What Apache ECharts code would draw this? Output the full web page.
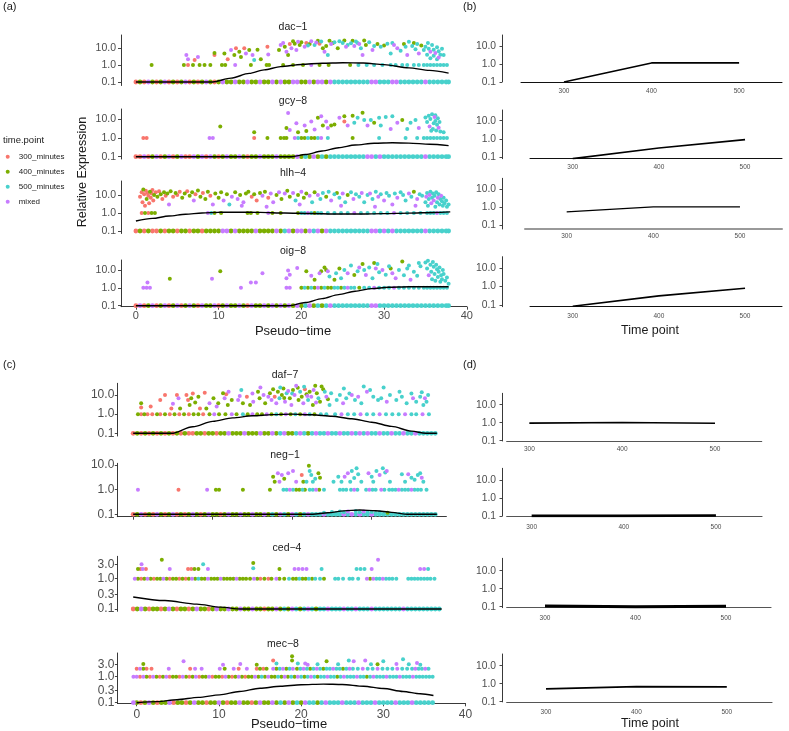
<!DOCTYPE html>
<html><head><meta charset="utf-8">
<script src="https://cdn.jsdelivr.net/npm/echarts@6/dist/echarts.min.js"></script>
<style>html,body{margin:0;padding:0;background:#fff}#c{width:789px;height:731px}</style>
</head><body><div id="c"></div>
<script>
// ---------- categories / legend ----------
const timePoints = ['300_minutes','400_minutes','500_minutes','mixed'];
const colors = ['#F8766D','#7CAE00','#48D1CC','#C77CFF'];
const timeTicks = [300,400,500];
const pseudoTicks = [0,10,20,30,40];
const exprTicks = [0.1,1,10];
const exprTicksFine = [0.1,0.3,1,3];
const ZERO_LEVEL = 0.1, ONE_LEVEL = 1;

// ---------- dac-1 ----------  zero band [x,k], row at 1.0 [x,k], other cells [x,y,k]
const dac1Zero = [[0,0],[0.5,1],[1,0],[1.5,3],[2,1],[2.5,0],[3,1],[3.5,3],[4,0],[4.5,1],[5,0],[5.5,1],[6,3],[6.5,0],[7,1],[7.5,0],[8,1],[8.5,3],[9,1],[9.5,0],[10,1],[10.5,3],[11,1],[11.5,1],[12,3],[12.5,1],[13,1],[13.5,3],[14,1],[14.5,1],[15,3],[15.5,1],[16,1],[16.5,3],[17,1],[17.5,3],[18,1],[18.5,1],[19,3],[19.5,3],[20,1],[20.5,1],[21,3],[21.5,1],[22,3],[22.5,3],[23,1],[23.5,3],[24,2],[24.5,2],[25,2],[25.5,2],[26,2],[26.5,2],[27,2],[27.5,2],[28,2],[28.5,3],[29,3],[29.5,2],[30,2],[30.5,2],[31,3],[31.5,3],[32,2],[32.5,2],[33,2],[33.5,2],[34,2],[34.5,2],[35,3],[35.5,2],[36,2],[36.5,2],[37,2],[37.5,2],[37.8,2]];
const dac1One = [[1.9,1],[5.8,1],[6.3,0],[6.9,1],[7.7,1],[8.3,1],[9,1],[10.4,1],[10.8,1],[12,3],[13.9,1],[15.8,1],[16.1,1],[17.8,1],[19,1],[20.2,1],[21.2,3],[22.2,1],[23.3,1],[25.9,1],[26.9,2],[27.9,2],[28.8,2],[29.8,2],[30.8,2],[31.4,2],[32.2,2],[32.8,2],[33.6,2],[34.2,2],[34.8,2],[35.2,2],[35.6,2],[36,2],[36.4,2],[36.8,2],[37.2,2],[37.6,2]];
const dac1Pts = [[6.1,3.9,3],[6.3,2.2,3],[7.1,2,0],[7.5,3,3],[9.5,3.9,0],[9.5,5,1],[10.7,4.7,1],[11.1,2.2,0],[11.5,7.5,3],[11.9,3.9,1],[12.1,9.6,0],[12.5,6,1],[12.7,3,1],[13.1,9.6,0],[13.3,4.7,3],[13.7,7.5,1],[14.1,3.9,3],[14.3,2,2],[14.7,8,1],[15.1,2.2,1],[15.9,12,0],[16,4.2,3],[17.3,7.5,1],[17.5,15,3],[17.8,20,3],[18,12,1],[18.2,6,3],[18.4,3.9,1],[18.6,17,0],[18.8,9.6,3],[19.2,18,1],[19.4,7.5,3],[19.8,15,1],[20,22,1],[20.4,12,3],[20.6,20,0],[21,17,1],[21.2,25,3],[21.6,15,2],[22,27,1],[22.2,18,0],[22.6,9.6,1],[22.8,6,3],[23.2,3.9,2],[23.4,27,1],[23.6,17,3],[24,22,2],[24.4,9.6,1],[25,20,2],[25.2,28,1],[25.6,15,2],[26.2,27,1],[26.4,13,3],[26.8,20,2],[27.2,9.6,2],[27.4,3.9,3],[27.8,15,1],[28.2,22,2],[28.6,7.5,3],[29.2,17,1],[29.6,12,2],[30.4,18,2],[30.8,4.7,2],[31.6,9.6,3],[32,7,2],[32.4,17,1],[32.8,3.9,3],[33.4,13,2],[33.8,8.5,2],[34.2,4.7,3],[34.8,7.5,2],[35,12,2],[35.2,4,2],[35.4,9,2],[35.6,2.5,2],[35.6,6,3],[35.8,15,2],[36,3.5,2],[36,8,2],[36.2,5,3],[36.4,11,2],[36.4,2.2,2],[36.6,6.5,2],[36.8,4,2],[37,9,2],[37.2,3.9,2],[35.3,20,2],[34.5,14,1],[36.6,2.8,3],[19,25,1],[19.6,23,3],[20.8,14,2],[21.8,21,3],[22.4,24,2],[23,13,1],[23.8,20,1],[24.6,25,2],[25.4,12,3],[26,19,2],[26.6,24,2],[27,17,3],[27.6,28,1],[28.8,13,2],[30,14,1],[31,20,2],[31.2,15,3],[32.6,12,2],[33,23,2],[33.6,20,1],[34,17,2]];
const dac1Curve = [[0,0.1],[9.3,0.1],[11.5,0.17],[13.7,0.32],[15.5,0.52],[17.5,0.8],[20,1.08],[22.5,1.28],[25,1.36],[27.5,1.3],[30,1.05],[33,0.68],[35.5,0.48],[37.8,0.33]];
const dac1Time = [0.1,1.15,1.15];

// ---------- gcy-8 ----------
const gcy8Zero = [[0,0],[0.5,0],[1,3],[1.5,0],[2,1],[2.5,3],[3,0],[3.5,1],[4,3],[4.5,0],[5,1],[5.5,3],[6,0],[6.5,0],[7,3],[7.5,1],[8,3],[8.5,0],[9,3],[9.5,1],[10,0],[10.5,1],[11,3],[11.5,1],[12,1],[12.5,3],[13,1],[13.5,0],[14,1],[14.5,1],[15,3],[15.5,1],[16,1],[16.5,1],[17,3],[17.5,1],[18,1],[18.5,1],[19,1],[19.5,3],[20,1],[20.5,2],[21,1],[21.5,3],[22,1],[22.5,2],[23,1],[23.5,2],[24,2],[24.5,2],[25,2],[25.5,2],[26,2],[26.5,2],[27,2],[27.5,2],[28,3],[28.5,3],[29,2],[29.5,3],[30,2],[30.5,2],[31,2],[31.5,2],[32,2],[32.5,2],[33,2],[33.5,2],[34,2],[34.5,2],[35,3],[35.5,2],[36,2],[36.5,2],[37,2],[37.5,2],[37.8,2]];
const gcy8One = [[0.9,0],[1.3,0],[8.9,3],[9.3,3],[14.3,0],[15.9,1],[17.5,1],[17.9,1],[18.2,1],[19.2,3],[19.6,2],[20,1],[20.4,1],[20.8,2],[21.2,1],[21.6,1],[22,2],[22.4,3],[23.2,2],[26.2,1],[29.4,2],[32.6,2],[34,2],[34.8,2],[35.2,2],[35.6,2],[36,2],[36.4,2],[36.8,2],[37.2,2],[37.6,2]];
const gcy8Pts = [[10.2,4.1,1],[14.3,2,1],[18.4,21,3],[18.2,3.4,1],[18.6,2.6,3],[19.4,6,3],[19.6,2,1],[20.4,4.5,3],[20.6,2.3,1],[21.2,7.5,3],[21.6,2.8,3],[22,11.8,1],[22.4,14,3],[22.6,4.5,1],[23,7.5,3],[23.2,3.4,3],[23.6,4.5,1],[24,5.2,1],[24.6,11.8,3],[25.2,7.5,0],[25.2,14,1],[25.6,4.5,3],[26.2,15,1],[26.4,6.3,2],[26.8,11.8,2],[27.4,22,1],[27.6,9,2],[28,4.5,3],[28.4,9,2],[28.8,6.3,1],[29.4,11.8,2],[29.6,4.5,2],[30.2,13,2],[30.8,3,3],[31,14,2],[31.6,6.3,3],[32.2,9,1],[32.8,3,2],[33.2,6.3,2],[33.8,9,2],[34.2,3.4,3],[35,12,2],[35.2,7,2],[35.4,15,2],[35.5,4,3],[35.6,10,2],[35.8,18,2],[35.9,3,2],[36,6,2],[36.1,13,3],[36.2,8,2],[36.3,2.5,2],[36.4,5,2],[36.5,11,2],[36.6,3.5,3],[36.7,7,2],[36.8,2.2,2],[37.2,2,2],[35.7,2.4,2],[36.2,16,2]];
const gcy8Curve = [[0,0.1],[18.8,0.1],[20.5,0.13],[22.5,0.2],[24.5,0.3],[26.5,0.42],[28.8,0.52],[31,0.55],[33,0.53],[35.5,0.46],[37.8,0.39]];
const gcy8Time = [0.085,0.32,0.92];

// ---------- hlh-4 ----------
const hlh4Zero = [[0,0],[0.5,1],[1,0],[1.5,1],[2,0],[2.5,0],[3,1],[3.5,0],[4,1],[4.5,1],[5,0],[5.5,1],[6,1],[6.5,0],[7,1],[7.5,1],[8,0],[8.5,1],[9,1],[9.5,1],[10,1],[10.5,3],[11,3],[11.5,1],[12,3],[12.5,1],[13,1],[13.5,1],[14,1],[14.5,3],[15,1],[15.5,1],[16,1],[16.5,1],[17,3],[17.5,1],[18,2],[18.5,3],[19,1],[19.5,3],[20,3],[20.5,1],[21,3],[21.5,2],[22,3],[22.5,1],[23,3],[23.5,2],[24,2],[24.5,2],[25,2],[25.5,2],[26,2],[26.5,2],[27,2],[27.5,2],[28,2],[28.5,3],[29,3],[29.5,2],[30,3],[30.5,2],[31,3],[31.5,2],[32,2],[32.5,2],[33,2],[33.5,2],[34,2],[34.5,2],[35,3],[35.5,2],[36,2],[36.5,2],[37,2],[37.5,2],[37.8,2]];
const hlh4One = [[0.7,0],[1.1,1],[1.5,0],[1.9,1],[2.3,1],[8.7,3],[9.1,2],[9.5,1],[10.3,1],[13.5,1],[13.9,1],[14.7,1],[16,3],[16.5,1],[17.5,1],[19.6,1],[20,2],[20.4,2],[20.8,3],[21.2,2],[21.6,1],[22,2],[22.4,2],[23.2,2],[24,2],[24.8,2],[25.6,2],[26.4,3],[27.2,2],[28,2],[28.8,2],[29.6,2],[30.4,2],[31.2,3],[32,2],[32.8,2],[33.6,2],[34.4,2],[35.2,2],[35.6,2],[36,2],[36.4,3],[36.8,2],[37.2,2],[37.6,2]];
const hlh4Pts = [[0.5,8,0],[0.7,14,0],[0.8,4,0],[0.9,20,1],[1,11,0],[1.1,2.5,0],[1.2,17,0],[1.3,6,1],[1.4,13,0],[1.5,9,0],[1.6,3.5,0],[1.7,15,1],[1.8,7,0],[1.9,12,0],[2,19,0],[2.1,5,0],[2.2,10,1],[2.4,14,0],[2.6,8,1],[2.8,16,0],[3,11,1],[3.2,6,0],[3.4,14,1],[3.6,9,0],[3.8,12,1],[4,3,3],[4.2,16,1],[4.5,8,0],[4.8,13,1],[5,10,0],[5.3,15,0],[5.6,7,1],[5.9,12,1],[6.2,16,0],[6.5,9,1],[6.8,14,1],[7,5,3],[7.2,11,0],[7.5,18,1],[7.8,8,1],[8.1,13,0],[8.4,6,1],[8.7,15,1],[9,9,0],[9.3,3,3],[9.6,12,1],[10,7,1],[10.3,14,1],[10.6,5,3],[11,11,1],[11.3,3,2],[11.6,8,3],[12,14,1],[12.3,6,3],[12.6,10,1],[13,4,3],[13.3,12,1],[13.6,15,1],[14,8,0],[14.3,11,1],[14.6,5,0],[15,13,1],[15.3,9,3],[15.6,15,1],[16,7,0],[16.3,12,3],[16.6,4,3],[17,10,1],[17.3,14,3],[17.6,6,1],[18,12,3],[18.3,17,1],[18.6,8,1],[19,13,3],[19.3,5,2],[19.6,10,1],[20,15,3],[20.3,7,1],[20.6,12,1],[21,9,3],[21.3,4,2],[21.6,14,1],[22,10,3],[22.3,6,2],[22.6,13,2],[23,8,1],[23.3,15,2],[23.6,5,3],[24,11,2],[24.3,13,1],[24.6,7,2],[25,12,3],[25.3,4,2],[25.6,10,1],[26,14,2],[26.3,6,3],[26.6,11,2],[27,8,2],[27.3,13,3],[27.6,4,2],[28,10,2],[28.3,12,3],[28.6,6,2],[29,15,2],[29.3,8,3],[29.6,11,2],[30,5,3],[30.3,13,2],[30.6,9,2],[31,3,3],[31.3,12,2],[31.6,7,3],[32,14,2],[32.3,10,2],[32.6,5,2],[33,12,3],[33.3,8,2],[33.6,15,1],[34,6,3],[34.3,11,2],[34.6,9,2],[35,4,2],[35.1,8,3],[35.2,13,2],[35.3,2.5,2],[35.4,6,2],[35.5,10,3],[35.6,15,2],[35.7,3.5,3],[35.8,7,2],[35.9,12,2],[36,5,3],[36.1,9,2],[36.2,2.2,2],[36.3,14,2],[36.4,4,2],[36.5,7,3],[36.6,11,2],[36.7,3,2],[36.8,6,2],[36.9,9,3],[37,4.5,2],[37.1,2.5,2],[37.2,7,2],[37.3,3.5,2],[37.5,5,2],[37.6,2.2,2],[37.8,3,2],[12.8,2.5,3],[15.8,2.2,3],[19.8,3,3],[24.8,2.5,3],[28.9,2.2,3],[33.8,2.5,3]];
const hlh4Curve = [[0,0.36],[2,0.5],[4,0.68],[6,0.86],[8,1.0],[10,1.1],[12,1.12],[15,1.08],[18,1.0],[21,0.93],[24,0.88],[27,0.88],[30,0.92],[33,0.98],[36,1.07],[38,1.15]];
const hlh4Time = [0.53,1.02,1.02];

// ---------- oig-8 ----------
const oig8Zero = [[0,0],[0.5,3],[1,0],[1.5,1],[2,3],[2.5,0],[3,1],[3.5,3],[4,0],[4.5,1],[5,3],[5.5,0],[6,1],[6.5,3],[7,1],[7.5,0],[8,3],[8.5,1],[9,1],[9.5,3],[10,0],[10.5,1],[11,3],[11.5,1],[12,1],[12.5,3],[13,1],[13.5,0],[14,3],[14.5,1],[15,1],[15.5,3],[16,1],[16.5,3],[17,1],[17.5,3],[18,1],[18.5,3],[19,1],[19.5,3],[20,1],[20.5,2],[21,3],[21.5,1],[22,2],[22.5,1],[23,2],[23.5,3],[24,2],[24.5,2],[25,2],[25.5,2],[26,2],[26.5,2],[27,2],[27.5,2],[28,2],[28.5,3],[29,3],[29.5,2],[30,2],[30.5,2],[31,2],[31.5,2],[32,2],[32.5,2],[33,2],[33.5,2],[34,2],[34.5,2],[35,2],[35.5,2],[36,2],[36.5,2],[37,2],[37.5,2],[37.8,2]];
const oig8One = [[0.9,3],[1.3,3],[1.7,3],[12.7,3],[18.2,3],[18.6,3],[20,1],[20.4,2],[20.8,1],[21.2,2],[21.6,1],[22,3],[22.4,1],[22.8,2],[23.2,1],[23.6,1],[24,2],[24.4,2],[24.8,1],[25.2,2],[25.6,3],[26,2],[26.4,2],[27,1],[27.6,2],[28.2,2],[28.8,3],[29.4,2],[30,2],[30.6,2],[31.2,3],[31.8,2],[32.4,2],[33,2],[33.6,2],[34.2,2],[34.8,2],[35.2,2],[35.6,2],[36,2],[36.4,2],[36.8,2],[37.2,2],[37.6,2]];
const oig8Pts = [[1.4,2,3],[4.1,3.2,1],[9.2,3.2,3],[10.2,8.5,1],[13.9,2,3],[14.5,2,3],[15.3,6.5,3],[18.2,3.5,3],[18.4,9.5,3],[18.6,5.5,3],[19.5,13,3],[20.6,8.5,1],[21.2,4.8,3],[21.6,2.8,1],[22.2,6.5,3],[22.4,8.5,1],[23,10,1],[23.2,8.5,3],[23.4,4.3,2],[24,2.8,1],[24.2,6.5,2],[24.8,3.5,2],[25.2,10,2],[25.6,6.5,3],[26,18,2],[26.4,5.2,1],[26.8,8.5,2],[27.4,22,1],[27.6,10,2],[27.8,5.2,3],[28.2,14,2],[28.6,3.5,2],[29.2,22,2],[29.4,7.5,2],[29.8,10,3],[30.2,5.5,2],[30.6,16,2],[31,6.5,3],[31.4,3.5,3],[31.8,10,2],[32.2,30,1],[32.4,5,2],[32.8,12,2],[33.2,2.8,3],[33.6,8,2],[34,4.8,2],[34.4,16,2],[35,26,2],[35.2,12,2],[35.4,5,3],[35.6,20,2],[35.7,8,2],[35.8,3,2],[36,15,2],[36.1,6,2],[36.2,2.5,2],[36.4,11,2],[36.5,4,2],[36.6,8,2],[36.8,2.2,2],[36.9,5,2],[37,3,2],[37.2,6,2],[37.4,2.5,2],[37.6,3.8,2],[37.8,1.7,2],[35.3,33,2],[35.9,28,2],[36.3,20,2],[36.7,14,2],[37.1,10,2],[29,12,3],[27,14,3],[24.6,12,1],[30.8,12,1],[33,18,2],[34.2,25,2],[28.8,25,1],[22.8,14,1]];
const oig8Curve = [[0,0.1],[18.5,0.1],[20.5,0.15],[22.5,0.25],[24.5,0.42],[26.5,0.65],[28.5,0.9],[30.5,1.08],[33,1.15],[36,1.15],[37.8,1.15]];
const oig8Time = [0.085,0.31,0.8];

// ---------- daf-7 ----------
const daf7Zero = [[0,0],[0.5,1],[1,0],[1.5,1],[2,0],[2.5,1],[3,0],[3.5,1],[4,0],[4.5,1],[5,0],[5.5,1],[6,0],[6.5,1],[7,0],[7.5,0],[8,1],[8.5,1],[9,0],[9.5,1],[10,1],[10.5,0],[11,1],[11.5,1],[12,3],[12.5,1],[13,1],[13.5,1],[14,3],[14.5,1],[15,1],[15.5,1],[16,3],[16.5,1],[17,1],[17.5,3],[18,1],[18.5,2],[19,3],[19.5,1],[20,1],[20.5,2],[21,3],[21.5,2],[22,1],[22.5,2],[23,3],[23.5,2],[24,2],[24.5,3],[25,2],[25.5,2],[26,3],[26.5,2],[27,2],[27.5,3],[28,2],[28.5,3],[29,2],[29.5,3],[30,2],[30.5,2],[31,3],[31.5,2],[32,2],[32.5,3],[33,2],[33.5,2],[34,3],[34.5,2],[35,2],[35.5,3],[36,2],[36.5,2],[37,2],[37.5,2],[38,2]];
const daf7One = [[0.6,1],[1,0],[1.4,1],[1.8,0],[2.4,0],[3,1],[3.4,0],[4,1],[4.6,0],[5.2,1],[5.8,0],[6.4,1],[7,0],[7.6,1],[8.2,1],[8.8,0],[9.6,1],[10.2,3],[10.8,1],[11.6,1],[12.4,3],[13,1],[13.8,2],[14.4,1],[15,3],[15.6,1],[16.2,1],[16.8,3],[17.4,1],[18,2],[18.6,1],[19.2,3],[19.8,1],[20.4,2],[21,1],[21.6,3],[22.2,2],[22.8,1],[23.6,2],[24.3,2],[25.4,2],[26.2,3],[27,2],[27.8,2],[28.6,3],[29.4,2],[30.2,2],[31,3],[31.8,2],[32.6,2],[33.4,2],[34.2,3],[35,2],[35.6,2],[36.4,3],[37.2,2]];
const daf7Pts = [[1,3.7,1],[1,2.2,0],[3.4,5.5,0],[4,10,0],[4.8,2,0],[5.5,10,0],[5.7,6.7,3],[5.9,2,1],[6.7,10,0],[6.9,5.5,0],[7.1,3,1],[7.3,6.7,1],[7.8,4,1],[8.2,8.2,1],[8.4,2,0],[9.2,2,1],[9.6,3.7,3],[10.1,6.7,1],[10.5,2.5,3],[10.7,3.7,1],[11.3,12.3,1],[11.5,6.7,3],[11.7,11,0],[11.9,3,1],[12.4,5.5,1],[13.2,5.5,3],[13.4,9,3],[13.6,18,2],[13.8,3.7,1],[14.3,8.2,0],[14.7,3,1],[15.1,4.5,3],[15.7,15,1],[15.9,6.7,1],[16.4,10,3],[16.6,3.7,1],[17.2,12.3,1],[17.4,5.5,3],[17.6,20,1],[17.8,8.2,0],[18,3.7,3],[18.2,15,1],[18.4,6.7,2],[18.7,10,1],[18.9,22,1],[19.1,4.5,3],[19.3,12.3,2],[19.7,6.7,1],[19.9,3,3],[20.1,18,1],[20.3,10,3],[20.5,30,3],[20.8,5.5,1],[21,15,2],[21.2,8.2,1],[21.4,3.7,3],[21.6,20,0],[21.8,11,1],[22,5.5,2],[22.2,15,1],[22.4,8.2,3],[22.6,3,1],[22.9,30,1],[23.1,12.3,1],[23.3,6.7,2],[23.5,4.5,1],[23.7,28,1],[24.1,15,2],[24.3,8.2,3],[24.7,3,2],[24.9,12.3,2],[25.6,5.5,2],[26,10,2],[26.4,3.7,3],[26.8,6.7,2],[27.5,10,3],[27.9,5.5,2],[28.3,8.2,3],[28.7,3.7,2],[29.4,15,3],[29.8,18,2],[30.2,8.2,2],[30.8,5.5,2],[31.2,6.7,2],[31.9,4.5,3],[32.3,10,2],[33.1,5.5,2],[33.8,8.2,2],[34.4,3.7,2],[35.2,6.7,3],[35.6,4.5,2],[36.1,8.2,2],[36.5,3,2],[36.7,6.7,3],[36.9,4.5,2],[37.1,10,2],[17,8,3],[18.5,25,2],[19.5,16,3],[20.7,24,1],[21.5,27,2],[22.7,18,3],[23.9,20,1],[19,7,1],[20,12,2],[21.9,9,3],[23,4,3],[24.5,6,1],[16,25,3],[15,12,3],[12,15,3],[9,13,0],[7.5,12,0],[5,3.5,3],[2.2,2.5,0],[26.5,22,2],[27.2,12,2],[29,28,2],[31.5,25,2],[33.5,15,2],[35,12,2],[36.3,14,2]];
const daf7Curve = [[0,0.1],[4.8,0.1],[7.5,0.22],[10,0.42],[12.5,0.64],[15,0.82],[17.5,0.95],[20,1.0],[22.5,0.93],[25,0.78],[27.5,0.58],[30,0.38],[32.5,0.23],[35,0.13],[36.8,0.1],[38.2,0.1]];
const daf7Time = [0.95,1.03,0.93];

// ---------- neg-1 ----------
const neg1Zero = [[0,0],[0.5,1],[1,3],[1.5,0],[2,1],[2.5,0],[3,3],[3.5,1],[4,0],[4.5,1],[5,3],[5.5,0],[6,1],[6.5,0],[7,1],[7.5,3],[8,1],[8.5,0],[9,1],[9.5,3],[10,1],[10.5,1],[11,0],[11.5,1],[12,3],[12.5,1],[13,1],[13.5,3],[14,1],[14.5,1],[15,3],[15.5,1],[16,1],[16.5,3],[17,1],[17.5,2],[18,1],[18.5,3],[19,2],[19.5,1],[20,3],[20.5,2],[21,1],[21.5,2],[22,3],[22.5,2],[23,2],[23.5,2],[24,3],[24.5,2],[25,2],[25.5,2],[26,2],[26.5,3],[27,2],[27.5,3],[28,2],[28.5,3],[29,2],[29.5,2],[30,3],[30.5,2],[31,2],[31.5,2],[32,2],[32.5,2],[33,2],[33.5,2],[34,2],[34.5,2],[35,2],[35.5,2],[36,2],[36.5,2],[37,2],[37.5,2],[38,2]];
const neg1One = [[0.6,3],[5.7,0],[9.3,3],[10.4,1],[10.8,1],[13.8,1],[17.2,1],[18.9,2],[19.3,2],[19.7,3],[20.1,2],[20.5,1],[20.9,1],[21.3,2],[21.6,1],[22.2,2],[22.6,2],[23,3],[23.4,1],[24,2],[26,2],[26.4,2],[26.8,2],[27.4,2],[27.8,3],[28.2,2],[29.3,2],[29.7,3],[30.1,2],[30.5,2],[31.2,3],[31.6,2],[32.2,2],[32.6,2],[33,2],[33.4,3],[33.8,2],[34.2,2],[34.6,2],[35,3],[35.4,2],[35.8,2],[36.2,2],[36.9,2]];
const neg1Pts = [[17.6,3.35,1],[17.8,2.1,1],[18.2,4.6,3],[18.4,2.1,3],[18.7,3.9,3],[19.5,4.6,3],[20.1,5.7,3],[21.2,3.9,0],[21.4,2.1,1],[21.8,2.1,2],[22.1,9.4,1],[22.2,5.7,2],[22.4,3.9,2],[22.6,2.1,2],[23.3,4.6,1],[23.5,3.05,1],[25.8,3.35,2],[26.2,2.1,2],[26.6,3.35,3],[27,4.6,3],[27.3,2.1,2],[27.5,5.7,2],[28.1,7.3,2],[28.3,4.2,2],[28.7,2.1,2],[29.6,4.6,3],[30.2,2.1,2],[30.6,5.7,2],[31,3.9,3],[31.4,7.3,2],[31.7,5,2],[31.9,5.7,3],[32.3,2.1,2],[33.8,4.2,2],[34.2,2.1,2],[34.6,4.2,3],[35,3.05,2],[35.8,3.9,2],[36.1,4.6,2],[36.3,3.05,3],[36.5,2.1,2],[22.9,2.8,2],[20.5,2.1,3],[19,2.8,1],[30,3.3,2],[27.8,3,2],[35.4,2.5,2],[25.2,2.1,2],[24,0.115,2],[25,0.125,2],[26,0.13,2],[27,0.13,3],[28,0.135,2],[29,0.13,3],[30,0.125,2],[31,0.12,2],[32,0.115,1],[26.5,0.12,2],[28.5,0.12,2],[29.5,0.118,2],[25.5,0.112,2],[30.5,0.112,2]];
const neg1Curve = [[0,0.1],[22.6,0.1],[24.5,0.115],[26.5,0.138],[28.5,0.15],[30.5,0.14],[32.5,0.12],[34.5,0.1],[38.2,0.1]];
const neg1Time = [0.101,0.102,0.107];

// ---------- ced-4 ----------
const ced4Zero = [[0,0],[0.5,1],[1,3],[1.5,1],[2,0],[2.5,1],[3,1],[3.5,0],[4,1],[4.5,3],[5,1],[5.5,0],[6,1],[6.5,1],[7,0],[7.5,1],[8,3],[8.5,1],[9,1],[9.5,0],[10,1],[10.5,3],[11,1],[11.5,1],[12,3],[12.5,1],[13,1],[13.5,3],[14,1],[14.5,1],[15,3],[15.5,1],[16,1],[16.5,0],[17,1],[17.5,1],[18,3],[18.5,1],[19,2],[19.5,1],[20,3],[20.5,2],[21,1],[21.5,2],[22,3],[22.5,2],[23,1],[23.5,2],[24,2],[24.5,3],[25,2],[25.5,2],[26,2],[26.5,3],[27,2],[27.5,2],[28,3],[28.5,2],[29,2],[29.5,2],[30,3],[30.5,2],[31,2],[31.5,2],[32,2],[32.5,2],[33,2],[33.5,2],[34,3],[34.5,2],[35,2],[35.5,2],[36,2],[36.5,2],[37,2],[37.5,2],[38,2],[38.5,2]];
const ced4One = [[0.2,3],[0.6,1],[1,0],[1.4,1],[1.8,3],[2.2,1],[2.6,0],[3,1],[3.4,1],[3.8,3],[4.2,1],[4.6,0],[5,1],[5.4,1],[5.8,0],[6.2,1],[6.6,0],[7,1],[7.4,3],[7.8,1],[8.2,2],[8.6,1],[9,1],[9.4,3],[9.8,1],[10.2,1],[10.6,1],[11,3],[11.4,1],[11.8,1],[12.2,1],[12.6,1],[13,3],[13.4,1],[13.8,1],[14.2,1],[14.7,1],[15.2,3],[15.6,1],[16,0],[16.5,1],[17,0],[17.4,1],[18,3],[18.4,1],[19,1],[19.6,2],[20.1,1],[20.5,1],[20.9,2],[21.3,1],[21.7,1],[22.1,2],[22.5,1],[22.9,2],[23.5,2],[24,1],[25.4,2],[25.8,2],[26.4,2],[27.2,2],[27.6,2],[28.3,2],[29.4,3],[29.8,1],[30.2,3],[30.6,2],[31,2],[31.4,3],[31.8,2],[32.2,2],[32.6,2],[33.1,2],[34.6,2],[35,2],[35.4,2],[35.8,2],[36.2,2],[36.6,2],[37,2],[37.4,2],[37.9,2]];
const ced4Pts = [[1.05,3,3],[3.6,4.2,1],[8.8,3,2],[15.1,3.3,1],[30.8,4.2,3],[0.6,2.1,1],[0.9,2.1,0],[1.2,2.1,3],[1.6,2.1,0],[4.6,2.1,3],[6.9,2.1,0],[7.3,2.1,0],[7.7,2.1,1],[8.2,2.1,1],[9.4,2.1,3],[15.1,2.2,2],[18.4,2.1,1],[20.3,2.1,3],[20.8,2.1,3],[21.3,2.1,3],[21.8,2.1,3],[23.7,2.1,2],[28.1,2.1,2],[28.6,2.1,2],[29.1,2.1,2],[30,2.1,3],[36.1,2.1,3],[36.6,2.1,3],[37.1,2.1,2]];
const ced4Curve = [[0,0.25],[4,0.19],[8,0.145],[11,0.115],[13.5,0.1],[38.8,0.1]];
const ced4Time = [0.108,0.1,0.105];

// ---------- mec-8 ----------
const mec8Zero = [[-0.4,3],[0,1],[0.5,0],[1,1],[1.5,3],[2,1],[2.5,0],[3,1],[3.5,1],[4,3],[4.5,0],[5,1],[5.5,1],[6,0],[6.5,1],[7,3],[7.5,1],[8,1],[8.5,0],[9,1],[9.5,1],[10,3],[10.5,1],[11,0],[11.5,1],[12,1],[12.5,3],[13,1],[13.5,1],[14,0],[14.5,1],[15,3],[15.5,1],[16,1],[16.5,3],[17,1],[17.5,2],[18,1],[18.5,3],[19,1],[19.5,2],[20,1],[20.5,3],[21,2],[21.5,2],[22,1],[22.5,2],[23,3],[23.5,2],[24,2],[24.5,2],[25,3],[25.5,2],[26,2],[26.5,2],[27,3],[27.5,2],[28,2],[28.5,2],[29,3],[29.5,2],[30,2],[30.5,2],[31,2],[31.5,3],[32,2],[32.5,2],[33,2],[33.5,3],[34,2],[34.5,2],[35,2],[35.5,2],[36,2]];
const mec8One = [[-0.4,3],[0,3],[0.4,0],[0.8,3],[1.2,1],[1.6,0],[2,3],[2.4,1],[2.8,0],[3.2,1],[3.6,3],[4,0],[4.4,1],[4.8,1],[5.2,0],[5.6,3],[6,1],[6.4,0],[6.8,1],[7.2,3],[7.6,0],[8,1],[8.4,1],[8.8,3],[9.2,0],[9.6,1],[10,1],[10.4,0],[10.8,3],[11.2,1],[11.6,0],[12,1],[12.4,3],[12.8,1],[13.2,0],[13.6,1],[14,1],[14.4,3],[14.8,1],[15.2,2],[15.6,1],[16,3],[16.4,1],[16.8,1],[17.2,2],[17.6,1],[18,3],[18.4,1],[18.8,2],[19.2,1],[19.6,3],[20,2],[20.4,1],[20.8,2],[21.2,3],[21.6,2],[22,1],[22.4,2],[22.8,2],[23.2,3],[23.6,2],[24,2],[24.4,1],[24.8,2],[25.2,3],[25.6,2],[26,2],[26.4,2],[26.8,3],[27.2,2],[27.6,2],[28,1],[28.4,2],[28.8,3],[29.2,2],[29.6,2],[30,2],[30.4,3],[30.8,2],[31.2,2],[31.6,2],[32,3],[32.4,2],[32.8,2],[33.2,2],[33.6,3],[34,2],[34.4,2],[34.8,2],[35.2,2],[35.6,2],[36,2]];
const mec8Pts = [[0,2,0],[0.4,2,3],[0.8,2,1],[1.2,2,0],[1.8,2,0],[3.9,2,3],[6.5,2,0],[7.1,2,3],[7.9,2,3],[10.1,2,3],[10.7,2,1],[11.8,2,3],[12.4,2,0],[13.4,2,3],[14.6,2,0],[15,2,1],[15.4,2,0],[15.8,2,1],[16.6,2,3],[17,2,1],[17.4,2,2],[17.8,2,3],[18.2,2,1],[18.6,2,2],[19,2,3],[19.5,2,1],[19.9,2,2],[20.3,2,3],[20.7,2,2],[21.1,2,1],[21.5,2,2],[21.9,2,3],[22.3,2,2],[22.7,2,1],[23.1,2,2],[23.5,2,2],[23.9,2,3],[24.3,2,2],[24.7,2,2],[25.1,2,1],[25.5,2,2],[25.9,2,3],[26.3,2,2],[26.9,2,2],[27.5,2,3],[28.1,2,2],[28.7,2,2],[29.3,2,3],[29.9,2,2],[30.5,2,2],[31.1,2,2],[31.7,2,3],[32.3,2,2],[32.9,2,2],[33.5,2,2],[33.9,2,3],[34.3,2,2],[34.7,2,2],[35.1,2,3],[35.5,2,2],[0.8,3.1,1],[5.7,3.9,3],[10.5,2.9,3],[12.6,3.1,3],[14.6,2.9,1],[16.6,4.2,0],[18.9,6.1,1],[18.9,4.2,1],[17,3.2,2],[19.6,3.2,2],[20.8,2.9,3],[23.1,3.9,1],[25.8,4.2,2],[26.4,3.9,3],[27.8,4.2,3],[30,3.9,2],[31.6,3.1,3],[32.4,4.7,2],[34.1,3.4,3],[34.5,2.9,2],[28.5,3,2],[22,3,2],[24.5,3,2],[33.1,3,2],[20.5,3.2,3],[29.3,3,1]];
const mec8Curve = [[0,0.1],[2.5,0.11],[4.9,0.13],[7.5,0.16],[10.1,0.2],[12.5,0.27],[15,0.36],[17.5,0.43],[20,0.49],[22.7,0.52],[25,0.5],[27.6,0.43],[30,0.35],[32.4,0.27],[34.5,0.22],[36.1,0.19]];
const mec8Time = [0.51,0.68,0.66];

// ---------- build ----------
const FONT = '"Liberation Sans", Arial, Helvetica, sans-serif';
const grids = [], xAxes = [], yAxes = [], series = [], graphics = [];
const L10 = v => Math.log10(v);

function txt(x, y, s, size, opt) {
  opt = opt || {};
  graphics.push({type:'text', x:x, y:y, rotation: opt.rot || 0, silent:true,
    style:{text:s, font: size + 'px ' + FONT, fill: opt.color || '#1a1a1a',
      textAlign: opt.align || 'center', textVerticalAlign:'middle', align: opt.align || 'center', verticalAlign:'middle'}});
}

function addPanel(c) {
  const i = grids.length;
  grids.push({left:c.left, top:c.top, width:c.right - c.left, height:c.bottom - c.top, containLabel:false, outerBoundsMode:'none'});
  const ymin = -1 - (c.bottom - c.p01) / c.ppd, ymax = -1 + (c.p01 - c.top) / c.ppd;
  const yt = c.yticks.map(L10);
  yAxes.push({type:'value', gridIndex:i, min:ymin, max:ymax, position:'left', offset:c.yOffset || 0,
    axisLine:{show:true, onZero:false, lineStyle:{color:'#222', width:0.9}},
    axisTick:{show:true, length:c.yTick, customValues:yt, lineStyle:{color:'#333', width:0.9}},
    axisLabel:{show:true, customValues:yt, formatter:v => Math.pow(10, v).toFixed(1), fontSize:c.yFont, color:'#4d4d4d', margin:c.yMargin, fontFamily:FONT},
    splitLine:{show:false}});
  const xa = {type:'value', gridIndex:i, min:c.xmin, max:c.xmax, splitLine:{show:false}};
  if (c.x) {
    xa.axisLine = {show:true, onZero:false, lineStyle:{color:c.x.color || '#222', width:c.x.width || 0.9}};
    xa.axisTick = c.x.ticks ? {show:true, length:3, customValues:c.x.ticks, lineStyle:{color:'#333', width:0.9}} : {show:false};
    xa.axisLabel = c.x.labels ? {show:true, customValues:c.x.labels, formatter:v => String(v), fontSize:c.x.font, color:'#4d4d4d', margin:c.x.margin, fontFamily:FONT} : {show:false};
  } else {
    xa.show = false;
    xa.axisLine = {show:false, onZero:false};
  }
  xAxes.push(xa);
  if (c.title) txt(c.title[0], c.title[1], c.title[2], 10.5);
  return i;
}

function addCells(i, zero, one, pts) {
  for (let k = 0; k < 4; k++) {
    // zero-expression cells (dense band at 0.1)
    series.push({type:'scatter', name:timePoints[k], xAxisIndex:i, yAxisIndex:i,
      data: zero.filter(p => p[1] === k).map(p => [p[0], L10(ZERO_LEVEL)]),
      symbol:'circle', symbolSize:4.8, itemStyle:{color:colors[k], opacity:1}, silent:true, z:2});
  }
  for (let k = 0; k < 4; k++) {
    const data = []
      .concat(one.filter(p => p[1] === k).map(p => [p[0], L10(ONE_LEVEL)]))
      .concat(pts.filter(p => p[2] === k).map(p => [p[0], L10(p[1])]));
    series.push({type:'scatter', name:timePoints[k], xAxisIndex:i, yAxisIndex:i, data:data,
      symbol:'circle', symbolSize:4, itemStyle:{color:colors[k], opacity:1}, silent:true, z:2});
  }
}
function addCurve(i, curve) {
  series.push({type:'line', xAxisIndex:i, yAxisIndex:i, data:curve.map(p => [p[0], L10(p[1])]),
    symbol:'none', showSymbol:false, smooth:0.3, smoothMonotone:'x', lineStyle:{color:'#000', width:1.4}, z:5, silent:true});
}
function addTime(i, vals, w) {
  series.push({type:'line', xAxisIndex:i, yAxisIndex:i, data:timeTicks.map((t, j) => [t, L10(vals[j])]),
    symbol:'none', showSymbol:false, lineStyle:{color:'#000', width:w}, z:5, silent:true});
}

// (a) pseudo-time panels
const A = {left:121, right:466.8, xmin:-1.8, xmax:40, yticks:exprTicks, yFont:10.5, yMargin:5, yTick:3};
const aPanels = [
  {top:35, bottom:85.5, p01:82, ppd:17, title:[293, 27.3, 'dac\u22121'], z:dac1Zero, o:dac1One, p:dac1Pts, c:dac1Curve},
  {top:109, bottom:159, p01:156.7, ppd:18.8, title:[293, 101, 'gcy\u22128'], z:gcy8Zero, o:gcy8One, p:gcy8Pts, c:gcy8Curve},
  {top:181, bottom:233.5, p01:231, ppd:18, title:[293, 173, 'hlh\u22124'], z:hlh4Zero, o:hlh4One, p:hlh4Pts, c:hlh4Curve},
  {top:260, bottom:306.7, p01:305.7, ppd:17.85, title:[293, 251, 'oig\u22128'], z:oig8Zero, o:oig8One, p:oig8Pts, c:oig8Curve,
    x:{ticks:pseudoTicks, labels:pseudoTicks, font:11, margin:4}}
];
aPanels.forEach(p => { const i = addPanel(Object.assign({}, A, p)); addCells(i, p.z, p.o, p.p); addCurve(i, p.c); });

// (b) time-point panels
const bPanels = [
  {left:521, right:782, xmin:250.9, xmax:549, top:35, bottom:82, p01:82, ppd:18, yOffset:19, v:dac1Time, w:1.6, lm:5.5},
  {left:530, right:782, xmin:250.4, xmax:542.9, top:110, bottom:158.7, p01:157.3, ppd:18.3, yOffset:28, v:gcy8Time, w:1.6, lm:5},
  {left:525, right:782, xmin:251.9, xmax:548.5, top:178.3, bottom:229, p01:225, ppd:18, yOffset:23, v:hlh4Time, w:1.3, lm:3.5, xc:'#999', xw:2},
  {left:530, right:782, xmin:250.4, xmax:542.9, top:256.7, bottom:306.7, p01:305, ppd:18.5, yOffset:28, v:oig8Time, w:1.6, lm:6}
];
bPanels.forEach(p => {
  const i = addPanel(Object.assign({yticks:exprTicks, yFont:10.3, yMargin:6, yTick:2.5,
    x:{labels:timeTicks, font:6.5, margin:p.lm, color:p.xc || '#111', width:p.xw || 1}}, p));
  addTime(i, p.v, p.w);
});

// (c) pseudo-time panels
const C = {left:117.3, right:446.4, xmin:-2, xmax:39.4, yFont:12, yMargin:3, yTick:2.5};
const cPanels = [
  {top:383.3, bottom:436, p01:433.3, ppd:19.15, yticks:exprTicks, title:[285, 375, 'daf\u22127'], z:daf7Zero, o:daf7One, p:daf7Pts, c:daf7Curve},
  {top:463.3, bottom:516.7, p01:514.3, ppd:24.65, yticks:exprTicks, title:[285, 455, 'neg\u22121'], z:neg1Zero, o:neg1One, p:neg1Pts, c:neg1Curve,
    x:{ticks:[0,10,20,30], labels:null}},
  {top:556.3, bottom:611.3, p01:609, ppd:30.3, yticks:exprTicksFine, title:[287, 548.3, 'ced\u22124'], z:ced4Zero, o:ced4One, p:ced4Pts, c:ced4Curve},
  {top:653, bottom:703.3, p01:702.7, ppd:26, yticks:exprTicksFine, title:[283, 644, 'mec\u22128'], z:mec8Zero, o:mec8One, p:mec8Pts, c:mec8Curve,
    left:117.4, right:465.5, xmin:-2.35, xmax:40, x:{ticks:pseudoTicks, labels:pseudoTicks, font:12, margin:5}}
];
cPanels.forEach(p => { const i = addPanel(Object.assign({}, C, p)); addCells(i, p.z, p.o, p.p); addCurve(i, p.c); });

// (d) time-point panels
const dPanels = [
  {left:506.7, right:761.7, xmin:275.6, xmax:550.3, top:393.3, bottom:441, p01:440.7, ppd:18, v:daf7Time, w:1.6, lm:5},
  {left:506.7, right:762, xmin:272.9, xmax:550, top:468.3, bottom:516.2, p01:516, ppd:18, v:neg1Time, w:2.6, lm:8},
  {left:506.7, right:771, xmin:257.7, xmax:549.7, top:558.3, bottom:607.7, p01:606.7, ppd:18, v:ced4Time, w:3, lm:7.5},
  {left:506.7, right:772, xmin:256.5, xmax:550, top:654, bottom:701.9, p01:701.7, ppd:18, v:mec8Time, w:1.8, lm:7}
];
dPanels.forEach(p => {
  const i = addPanel(Object.assign({yticks:exprTicks, yFont:10.3, yMargin:6, yTick:2.5, yOffset:4.7,
    x:{labels:timeTicks, font:6.5, margin:p.lm, color:'#555', width:1.1}}, p));
  addTime(i, p.v, p.w);
});

// texts
txt(3, 7, '(a)', 11, {align:'left'});
txt(463, 7, '(b)', 11, {align:'left'});
txt(3, 365, '(c)', 11, {align:'left'});
txt(463, 365, '(d)', 11, {align:'left'});
txt(293, 331, 'Pseudo\u2212time', 13);
txt(289, 724.3, 'Pseudo\u2212time', 13);
txt(650, 331, 'Time point', 12.5);
txt(650, 723.3, 'Time point', 12.5);
txt(83, 172, 'Relative Expression', 12.5, {rot:Math.PI / 2});
txt(3, 140, 'time.point', 9.5, {align:'left'});

const chart = echarts.init(document.getElementById('c'), null, {renderer:'canvas'});
chart.setOption({
  animation:false,
  backgroundColor:'#fff',
  textStyle:{fontFamily:FONT},
  grid:grids, xAxis:xAxes, yAxis:yAxes, series:series, graphic:graphics,
  legend:{data:timePoints, orient:'vertical', left:5.7, top:152.2, padding:0, itemGap:6, itemWidth:12, itemHeight:4,
    icon:'circle', selectedMode:false, textStyle:{fontSize:8, lineHeight:9, color:'#1a1a1a', fontFamily:FONT}},
  tooltip:{show:false}
});
</script></body></html>
